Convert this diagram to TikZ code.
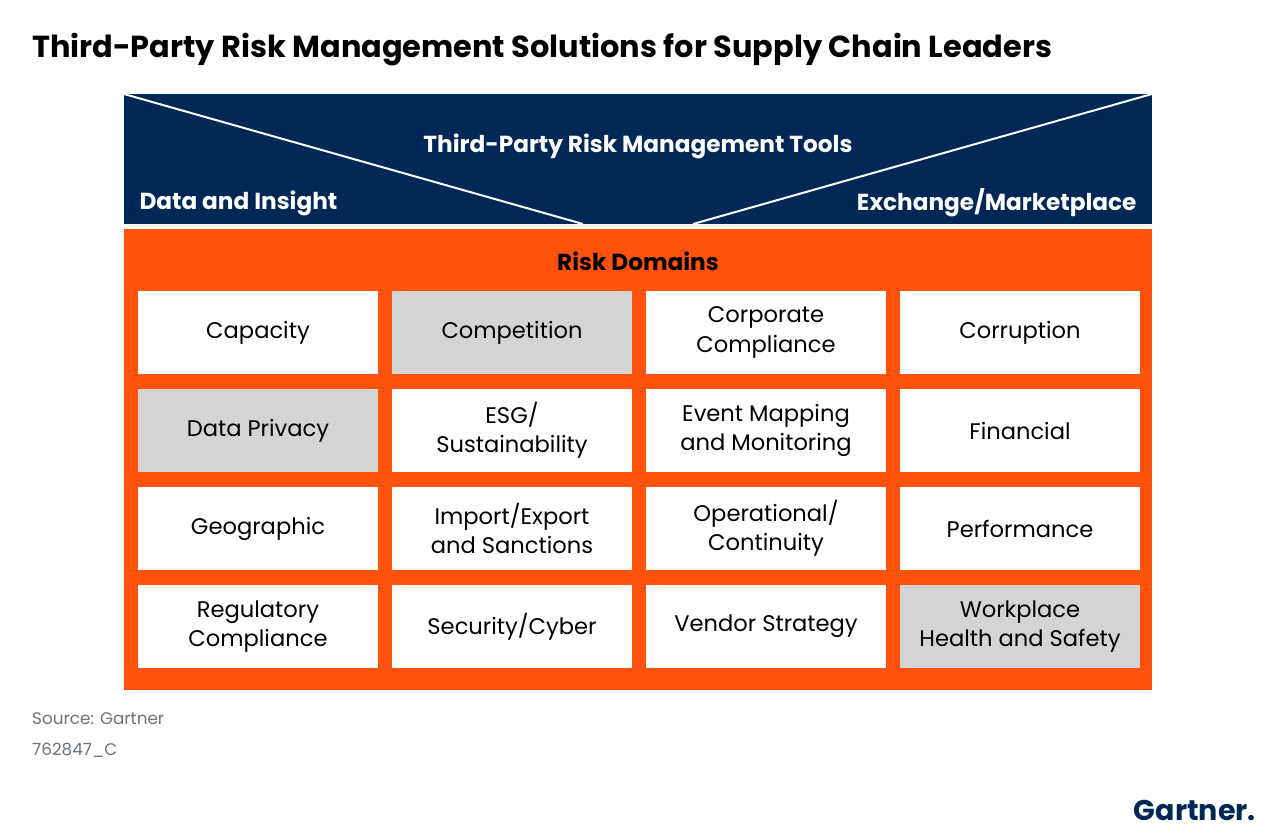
\documentclass[tikz,border=0pt]{standalone}
\usepackage{fontspec}
\setmainfont{Poppins}
\usetikzlibrary{positioning}
\definecolor{navy}{HTML}{002856}
\definecolor{riskorange}{HTML}{FF530D}
\definecolor{cellgray}{HTML}{D4D4D4}
\definecolor{srcgray}{HTML}{6E7478}
\tikzset{
  cell/.style={fill=white, minimum width=240pt, minimum height=83pt, inner sep=0pt,
    align=center, font=\fontsize{22.6}{29.5}\selectfont},
  graycell/.style={cell, fill=cellgray},
  headtext/.style={text=white, font=\fontsize{23.2}{26}\selectfont\bfseries},
}
\begin{document}
\begin{tikzpicture}[x=1pt, y=-1pt]
  \useasboundingbox[fill=white] (0,0) rectangle (1280,836);
  \node[anchor=base west, inner sep=0pt, font=\fontsize{30.4}{35}\selectfont\bfseries] (title) at (32,57) {Third-Party Risk Management Solutions for Supply Chain Leaders};

  % tools band
  \fill[navy] (124,94) rectangle (1152,224);
  \coordinate (tl) at (124,94);
  \coordinate (tr) at (1152,94);
  \coordinate (bl) at (583,224);
  \coordinate (br) at (693,224);
  \draw[white, line width=2pt] (tl) -- (bl);
  \draw[white, line width=2pt] (tr) -- (br);
  \node[headtext] (tools) at (638,146) {Third-Party Risk Management Tools};
  \node[headtext, anchor=west] (data) at (136,203) {Data and Insight};
  \node[headtext, anchor=east] (exch) at (1140,203) {Exchange/Marketplace};

  % risk domains
  \fill[riskorange] (124,229) rectangle (1152,690);
  \node[font=\fontsize{23.2}{26}\selectfont\bfseries] (domains) at (638,261) {Risk Domains};
  \foreach \txt/\col/\row/\sty in {
    {Capacity}/0/0/cell, {Competition}/1/0/graycell, {Corporate\\Compliance}/2/0/cell, {Corruption}/3/0/cell,
    {Data Privacy}/0/1/graycell, {ESG/\\Sustainability}/1/1/cell, {Event Mapping\\and Monitoring}/2/1/cell, {Financial}/3/1/cell,
    {Geographic}/0/2/cell, {Import/Export\\and Sanctions}/1/2/cell, {Operational/\\Continuity}/2/2/cell, {Performance}/3/2/cell,
    {Regulatory\\Compliance}/0/3/cell, {Security/Cyber}/1/3/cell, {Vendor Strategy}/2/3/cell, {Workplace\\Health and Safety}/3/3/graycell}
    \node[\sty] (c\col\row) at ({258+254*\col},{332.5+98*\row}) {\txt};

  \node[anchor=base west, inner sep=0pt, text=srcgray, font=\fontsize{16.8}{20}\selectfont] (src) at (32,724) {Source: Gartner};
  \node[anchor=base west, inner sep=0pt, text=srcgray, font=\fontsize{16.8}{20}\selectfont] (code) at (32,755) {762847\_C};
  \node[anchor=base east, inner sep=0pt, text=navy, font=\fontsize{28.5}{32}\selectfont\bfseries] (logo) at (1256,820) {Gartner.};
\end{tikzpicture}
\end{document}
